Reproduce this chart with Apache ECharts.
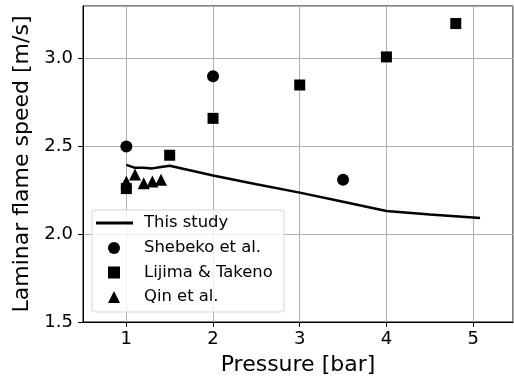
<!DOCTYPE html>
<html>
<head>
<meta charset="utf-8">
<script src="https://cdn.jsdelivr.net/npm/echarts@6/dist/echarts.min.js"></script>
<style>
  html, body { margin: 0; padding: 0; background: #fff; }
  #myChart { width: 514px; height: 381px; }
</style>
</head>
<body>
<div id="myChart"></div>
<script>
// this study (line)
const studyP = [1.0, 1.1, 1.2, 1.3, 1.4, 1.5, 2.0, 2.5, 3.0, 3.5, 4.0, 4.5, 5.0, 5.08];
const studyS = [2.395, 2.378, 2.378, 2.375, 2.383, 2.39, 2.335, 2.285, 2.237, 2.185, 2.132, 2.112, 2.095, 2.092];
// Shebeko et al.
const shebekoP = [1.0, 2.0, 3.5];
const shebekoS = [2.5, 2.9, 2.31];
// Lijima & Takeno
const lijimaP = [1.0, 1.5, 2.0, 3.0, 4.0, 4.8];
const lijimaS = [2.26, 2.45, 2.66, 2.85, 3.01, 3.2];
// Qin et al.
const qinP = [1.0, 1.1, 1.2, 1.3, 1.4];
const qinS = [2.30, 2.34, 2.29, 2.30, 2.31];
const yTicks = [1.5, 2.0, 2.5, 3.0];

const font = "DejaVu Sans";
const pairs = (xs, ys) => xs.map((x, i) => [x, ys[i]]);

let myChart = echarts.init(document.getElementById("myChart"));
myChart.setOption({
  animation: false,
  grid: { left: 83, right: 1, top: 6, bottom: 59, show: true, borderColor: "#000", borderWidth: 1, backgroundColor: "transparent" },
  graphic: [
    {
      type: "rect",
      z: 20,
      shape: { x: 92, y: 210, width: 192, height: 102, r: 3 },
      style: { fill: "rgba(255,255,255,0.8)", stroke: "#d6d6d6", lineWidth: 1 },
    },
  ],
  legend: [
    {
      data: [{ name: "This study", icon: "rect" }],
      orient: "vertical",
      left: 96,
      top: 213,
      padding: 0,
      itemWidth: 37,
      itemHeight: 3,
      selectedMode: false,
      z: 30,
      textStyle: { fontFamily: font, fontSize: 16.4, color: "#000", lineHeight: 20, padding: [0, 0, 0, 6] },
    },
    {
      data: [
        { name: "Shebeko et al.", icon: "circle" },
        { name: "Lijima & Takeno", icon: "rect" },
        { name: "Qin et al.", icon: "triangle" },
      ],
      orient: "vertical",
      left: 108,
      top: 238,
      padding: 0,
      itemWidth: 12,
      itemHeight: 12,
      itemGap: 4.5,
      selectedMode: false,
      z: 30,
      itemStyle: { opacity: 1 },
      textStyle: { fontFamily: font, fontSize: 16.4, color: "#000", lineHeight: 20, padding: [0, 0, 0, 19] },
    },
  ],
  xAxis: {
    type: "value",
    min: 0.5,
    max: 5.46,
    splitNumber: 5,
    name: "Pressure [bar]",
    nameLocation: "middle",
    nameGap: 32,
    nameTextStyle: { fontFamily: font, fontSize: 22, color: "#000" },
    axisLine: { lineStyle: { color: "#000", width: 1 } },
    axisTick: { show: true, length: 5, lineStyle: { color: "#000" } },
    axisLabel: { showMinLabel: false, showMaxLabel: false, margin: 8, fontFamily: font, fontSize: 18, color: "#000" },
    splitLine: { show: true, lineStyle: { color: "#b0b0b0", width: 1 } },
  },
  yAxis: {
    type: "value",
    min: yTicks[0],
    max: 3.3,
    interval: 0.5,
    name: "Laminar flame speed [m/s]",
    nameLocation: "middle",
    nameGap: 47,
    nameTextStyle: { fontFamily: font, fontSize: 22, color: "#000" },
    axisLine: { show: true, lineStyle: { color: "#000", width: 1 } },
    axisTick: { show: true, length: 5, lineStyle: { color: "#000" } },
    axisLabel: {
      showMaxLabel: false,
      margin: 10,
      fontFamily: font,
      fontSize: 18,
      color: "#000",
      formatter: (v) => (yTicks.indexOf(v) >= 0 ? v.toFixed(1) : ""),
    },
    splitLine: { show: true, lineStyle: { color: "#b0b0b0", width: 1 } },
  },
  series: [
    {
      name: "This study",
      type: "line",
      data: pairs(studyP, studyS),
      showSymbol: false,
      symbol: "none",
      color: "#000",
      lineStyle: { color: "#000", width: 2.5 },
      z: 2,
    },
    {
      name: "Shebeko et al.",
      type: "scatter",
      data: pairs(shebekoP, shebekoS),
      symbol: "circle",
      symbolSize: 12,
      itemStyle: { color: "#000", opacity: 1 },
      z: 3,
    },
    {
      name: "Lijima & Takeno",
      type: "scatter",
      data: pairs(lijimaP, lijimaS),
      symbol: "rect",
      symbolSize: 11,
      itemStyle: { color: "#000", opacity: 1 },
      z: 4,
    },
    {
      name: "Qin et al.",
      type: "scatter",
      data: pairs(qinP, qinS),
      symbol: "triangle",
      symbolSize: 12,
      itemStyle: { color: "#000", opacity: 1 },
      z: 5,
    },
  ],
});
</script>
</body>
</html>
